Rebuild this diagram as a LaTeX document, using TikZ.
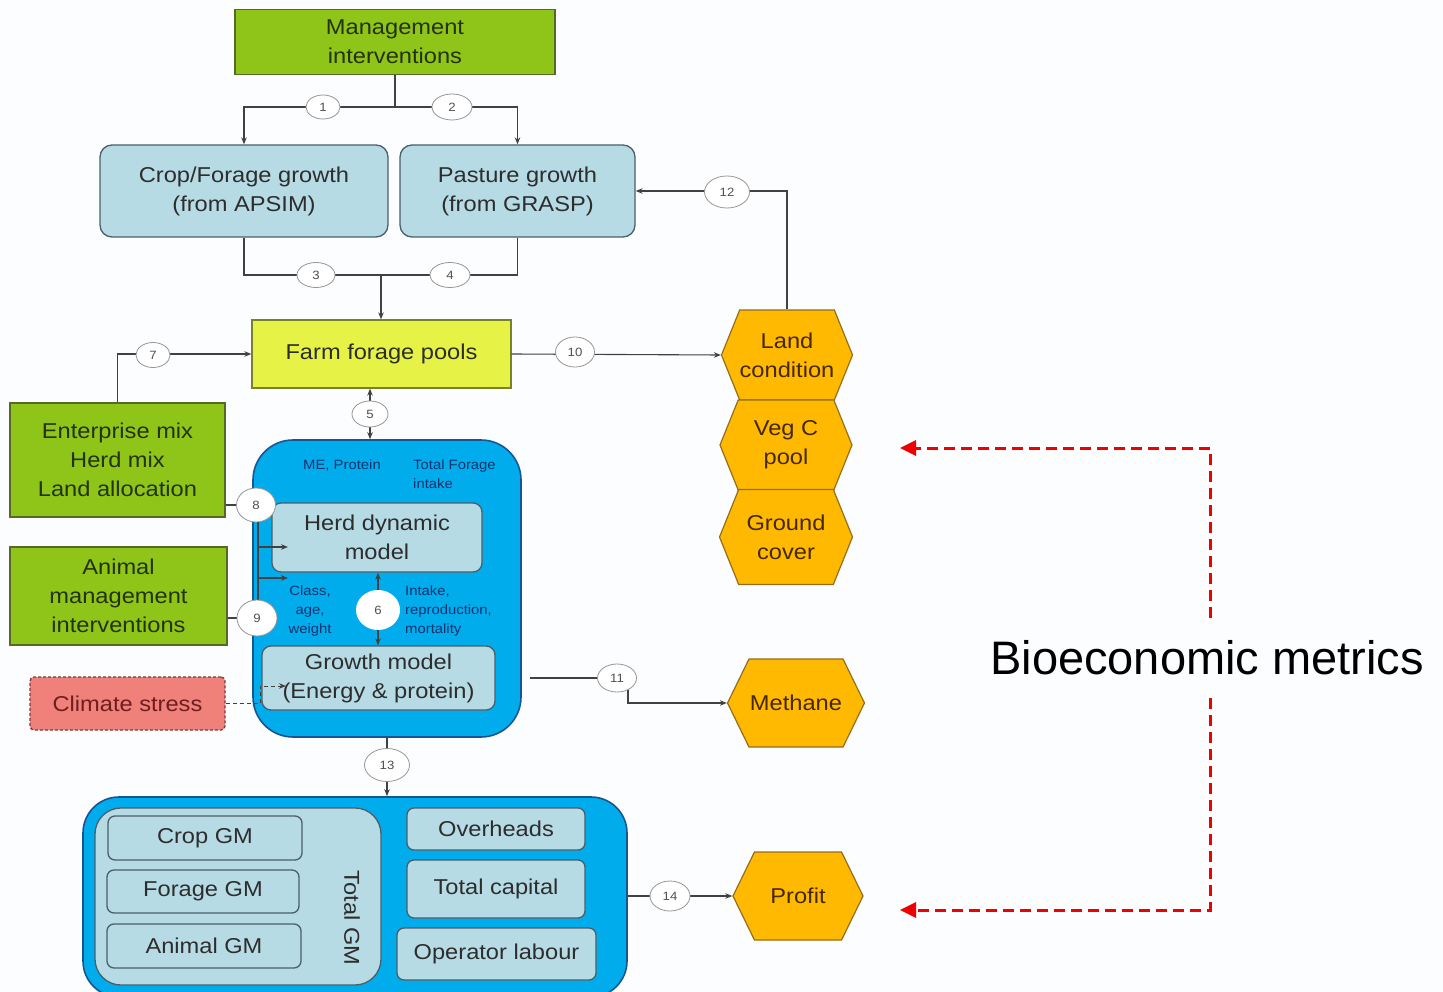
\documentclass[tikz,border=0pt]{standalone}
\usepackage{fontspec}
\setmainfont{Liberation Sans}
\newfontfamily\boxsans{Liberation Sans}[FakeStretch=1.1]
\usetikzlibrary{shapes.geometric,shapes.symbols,arrows.meta,calc}

\definecolor{bgcol}{RGB}{251,253,255}
\definecolor{linecol}{RGB}{65,65,65}
\definecolor{textcol}{RGB}{45,45,45}
\definecolor{greenfill}{RGB}{143,196,25}
\definecolor{greenline}{RGB}{85,105,40}
\definecolor{greentext}{RGB}{35,50,15}
\definecolor{paleblue}{RGB}{182,219,229}
\definecolor{paleline}{RGB}{75,95,105}
\definecolor{poolfill}{RGB}{230,243,70}
\definecolor{poolline}{RGB}{120,130,40}
\definecolor{modelblue}{RGB}{0,172,236}
\definecolor{modelline}{RGB}{25,85,145}
\definecolor{smalltext}{RGB}{20,50,110}
\definecolor{hexfill}{RGB}{255,185,0}
\definecolor{hexline}{RGB}{150,110,25}
\definecolor{hextext}{RGB}{70,40,0}
\definecolor{stressfill}{RGB}{240,128,122}
\definecolor{stressline}{RGB}{120,60,60}
\definecolor{stresstext}{RGB}{110,30,30}
\definecolor{numline}{RGB}{150,150,150}
\definecolor{numtext}{RGB}{80,80,80}
\definecolor{metricred}{RGB}{240,0,0}

\tikzset{
  conn/.style={draw=linecol, line width=1.1pt},
  arr/.style={conn, -{Stealth[length=7pt,width=5.5pt]}},
  darr/.style={conn, {Stealth[length=7pt,width=5.5pt]}-{Stealth[length=7pt,width=5.5pt]}},
  dasharr/.style={draw=linecol, line width=1pt, dash pattern=on 4pt off 3pt, -{Stealth[length=7pt,width=5.5pt]}},
  mainfont/.style={font=\boxsans\fontsize{21.5}{29}\selectfont},
  box/.style={line width=1.3pt, align=center, inner sep=2pt, mainfont, text=textcol},
  greenbox/.style={box, fill=greenfill, draw=greenline, text=greentext},
  palebox/.style={box, fill=paleblue, draw=paleline, rounded corners=12pt},
  gmbox/.style={box, fill=paleblue, draw=paleline, rounded corners=7pt},
  modelbox/.style={fill=modelblue, draw=modelline, line width=1.6pt},
  hexa/.style={shape=signal, signal to=east and west, signal pointer angle=128,
    fill=hexfill, draw=hexline, line width=1.2pt, align=center, inner sep=1pt,
    mainfont, text=hextext},
  widehex/.style={hexa, signal pointer angle=136, inner sep=0pt},
  num/.style={ellipse, fill=white, draw=numline, line width=0.8pt, inner sep=0pt,
    font=\boxsans\fontsize{12}{12}\selectfont, text=numtext},
  note/.style={font=\boxsans\fontsize{13.5}{19}\selectfont, text=smalltext, inner sep=0pt},
  metric/.style={draw=metricred, line width=3pt, dash pattern=on 11pt off 6pt,
    -{Triangle[length=16pt,width=15pt]}},
}

\begin{document}
\begin{tikzpicture}[x=1pt,y=-1pt]
\useasboundingbox (0,0) rectangle (1443,992);
\fill[bgcol] (0,0) rectangle (1443,992);
\clip (0,0) rectangle (1443,992);

% ---- container shapes ----
\node[modelbox, rounded corners=40pt, minimum width=268pt, minimum height=297pt] (herdbox) at (387,588.5) {};
\node[modelbox, rounded corners=36pt, minimum width=544pt, minimum height=200pt] (econbox) at (355,897) {};
\node[gmbox, rounded corners=26pt, minimum width=286pt, minimum height=177pt] (gm) at (238,896.5) {};

% ---- boxes ----
\node[greenbox, minimum width=320pt, minimum height=65pt] (mgmt) at (395,42) {Management\\interventions};
\node[palebox, minimum width=288pt, minimum height=92pt] (crop) at (244,191) {Crop/Forage growth\\(from APSIM)};
\node[palebox, minimum width=235pt, minimum height=92pt] (past) at (517.5,191) {Pasture growth\\(from GRASP)};
\node[box, fill=poolfill, draw=poolline, minimum width=259pt, minimum height=68pt] (pools) at (381.5,354) {Farm forage pools};
\node[greenbox, minimum width=215pt, minimum height=114pt] (ent) at (117.5,460) {Enterprise mix\\Herd mix\\Land allocation};
\node[greenbox, minimum width=217pt, minimum height=98pt] (anim) at (118.5,596) {Animal\\management\\interventions};
\node[box, fill=stressfill, draw=stressline, dash pattern=on 3pt off 2pt, rounded corners=4pt,
      text=stresstext, minimum width=195pt, minimum height=53pt] (clim) at (127.5,703.5) {Climate stress};
\node[gmbox, rounded corners=9pt, minimum width=210pt, minimum height=69pt] (herd) at (377,537.5) {Herd dynamic\\model};
\node[gmbox, rounded corners=9pt, minimum width=233pt, minimum height=64pt] (growth) at (378.5,678) {Growth model\\(Energy \& protein)};

\node[gmbox, minimum width=194pt, minimum height=44pt] (cropgm) at (205,838) {Crop GM};
\node[gmbox, minimum width=192pt, minimum height=43pt] (foragegm) at (203,891.5) {Forage GM};
\node[gmbox, minimum width=194pt, minimum height=44pt] (animgm) at (204,946) {Animal GM};
\node[mainfont, text=textcol, rotate=-90, inner sep=0pt] (gmlabel) at (352,918) {Total GM};
\node[gmbox, minimum width=178pt, minimum height=42pt] (over) at (496,829) {Overheads};
\node[gmbox, minimum width=178pt, minimum height=58pt] (capital) at (496,889) {Total capital};
\node[gmbox, minimum width=199pt, minimum height=52pt] (labour) at (496.5,954) {Operator labour};

% ---- outcome hexagons ----
\node[widehex, minimum width=131pt, minimum height=90pt] (land) at (787,355) {Land\\condition};
\node[widehex, minimum width=132pt, minimum height=90pt] (veg) at (786,445) {Veg C\\pool};
\node[widehex, minimum width=133pt, minimum height=95pt] (ground) at (786,537) {Ground\\cover};
\node[hexa, minimum width=132pt, minimum height=88pt] (meth) at (796,703) {Methane};
\node[hexa, minimum width=130pt, minimum height=88pt] (profit) at (798,896) {Profit};

% ---- small annotations inside the animal model ----
\node[note, align=center] (meprot) at (342,465) {ME, Protein};
\node[note, align=left, anchor=west] (tfi) at (413,474.5) {Total Forage\\intake};
\node[note, align=center] (caw) at (310,611) {Class,\\age,\\weight};
\node[note, align=left, anchor=west] (irm) at (405,611) {Intake,\\reproduction,\\mortality};

% ---- junction points of the connectors ----
\coordinate (j1) at (395,107);
\coordinate (j2) at (381,275);
\coordinate (p5) at (370,414);
\coordinate (p6) at (378,610);
\coordinate (p8) at (256,505);
\coordinate (p9) at (257,618);
\coordinate (v8) at (258,547);
\coordinate (v9) at (258,578);
\coordinate (a8) at (288,547);
\coordinate (a9) at (288,578);
\coordinate (cs) at (260,703.5);
\coordinate (ca) at (286,686);
\coordinate (s11) at (530,678);
\coordinate (p11) at (617,678);
\coordinate (d11) at (628,678);
\coordinate (p13) at (387,765);
\coordinate (r1) at (1210,618);
\coordinate (t1) at (900,448);
\coordinate (r2) at (1210,698);
\coordinate (t2) at (900,910);

% ---- connectors ----
\draw[conn] (mgmt.south) -- (j1);
\draw[arr] (j1) -| (crop.north);
\draw[arr] (j1) -| (past.north);
\draw[conn] (crop.south) |- (j2);
\draw[conn] (past.south) |- (j2);
\draw[arr] (j2) -- (pools.north -| j2);
\draw[arr] (ent.north) |- (pools.west);
\draw[arr] (pools.east) -- (land.west);
\draw[arr] (land.north) |- (past.east);
\draw[darr] (pools.south -| p5) -- (herdbox.north -| p5);
\draw[darr] (herd.south -| p6) -- (growth.north -| p6);
\draw[conn] (ent.east |- p8) -- (p8);
\draw[conn] (anim.east |- p9) -- (p9);
\draw[conn] (v8 |- p8) -- (v8 |- p9);
\draw[arr] (v8) -- (a8);
\draw[arr] (v9) -- (a9);
\draw[dasharr] (clim.east) -- (cs) |- (ca);
\draw[conn] (s11) -- (p11);
\draw[arr] (d11) |- (meth.west);
\draw[arr] (herdbox.south -| p13) -- (econbox.north -| p13);
\draw[arr] (econbox.east |- profit) -- (profit.west);

% ---- connector numbers ----
\node[num, minimum width=34pt, minimum height=24pt] (n1) at (323,107) {1};
\node[num, minimum width=40pt, minimum height=26pt] (n2) at (452,107) {2};
\node[num, minimum width=38pt, minimum height=25pt] (n3) at (316,275) {3};
\node[num, minimum width=40pt, minimum height=25pt] (n4) at (450,275) {4};
\node[num, minimum width=36pt, minimum height=26pt] (n5) at (p5) {5};
\node[num, draw=none, minimum width=44pt, minimum height=40pt] (n6) at (p6) {6};
\node[num, minimum width=34pt, minimum height=25pt] (n7) at (153,355) {7};
\node[num, minimum width=39pt, minimum height=34pt] (n8) at (p8) {8};
\node[num, minimum width=40pt, minimum height=36pt] (n9) at (p9) {9};
\node[num, minimum width=39pt, minimum height=30pt] (n10) at (575,352) {10};
\node[num, minimum width=39pt, minimum height=28pt] (n11) at (p11) {11};
\node[num, minimum width=45pt, minimum height=32pt] (n12) at (727,192) {12};
\node[num, minimum width=45pt, minimum height=33pt] (n13) at (p13) {13};
\node[num, minimum width=40pt, minimum height=30pt] (n14) at (670,896) {14};

% ---- bioeconomic metrics bracket ----
\node[font=\fontsize{47}{50}\selectfont, text=black, inner sep=0pt] (metrics) at (1207,658) {Bioeconomic metrics};
\draw[metric] (r1) |- (t1);
\draw[metric] (r2) |- (t2);
\end{tikzpicture}
\end{document}
